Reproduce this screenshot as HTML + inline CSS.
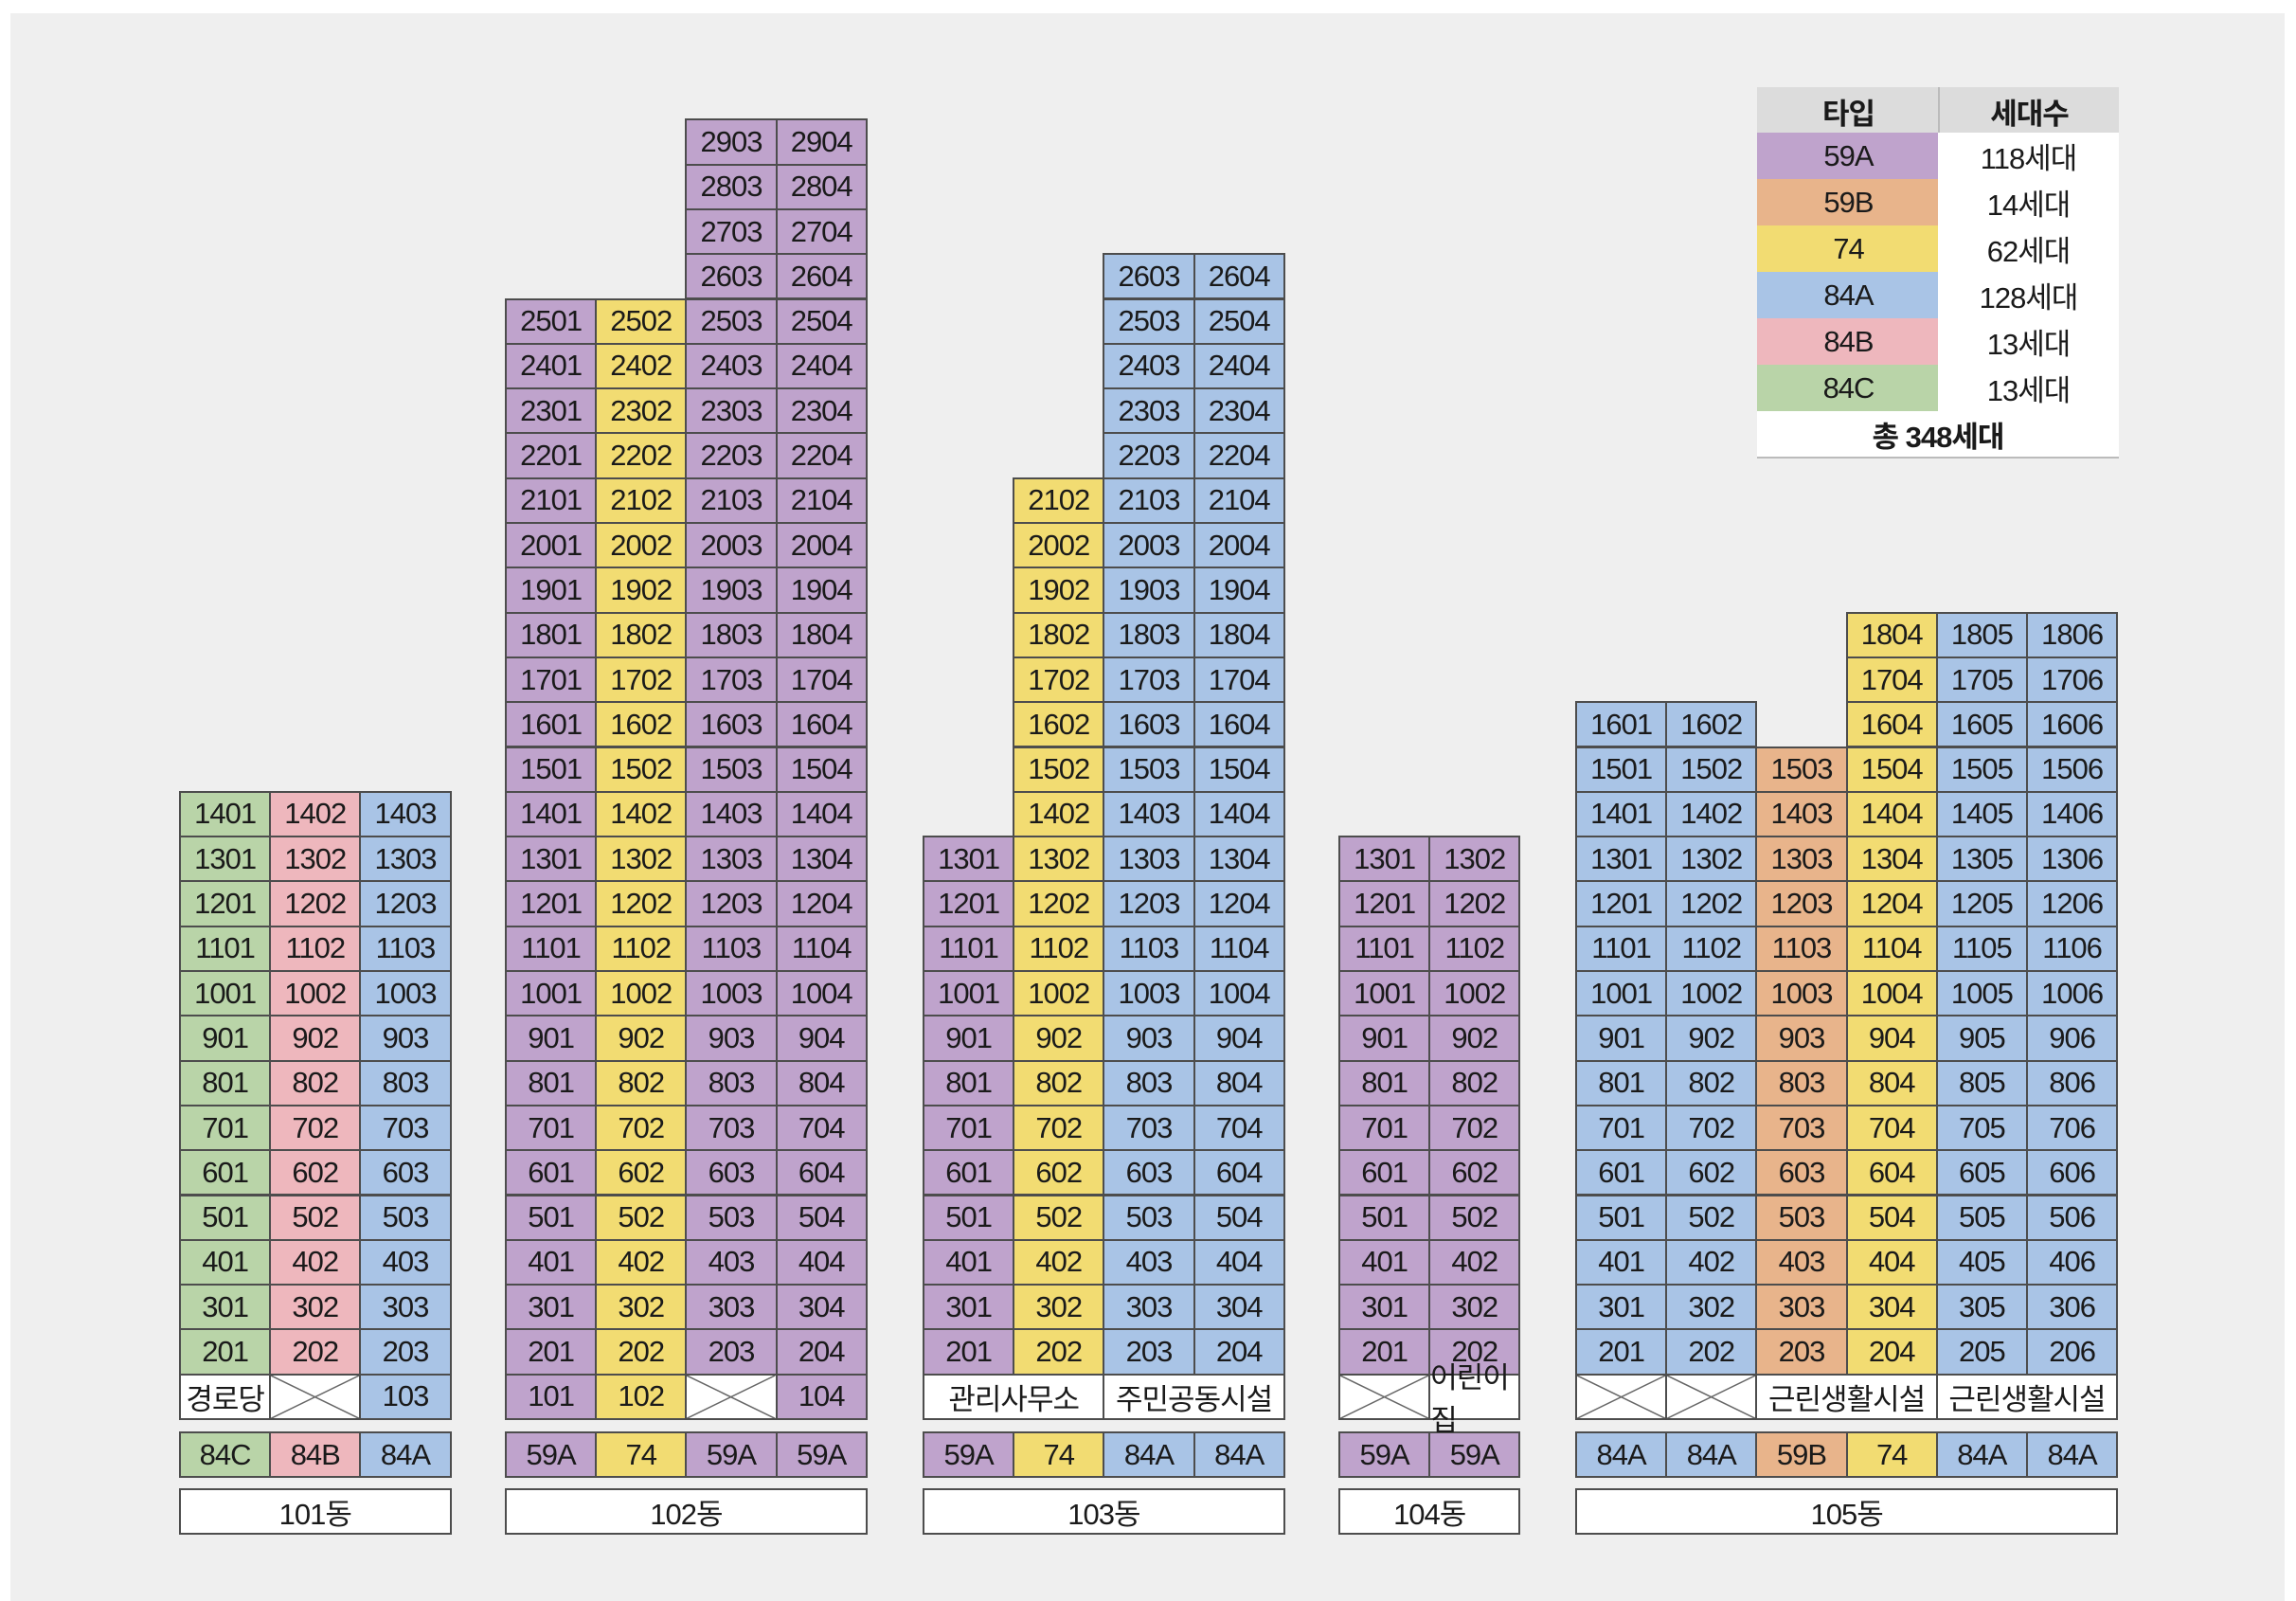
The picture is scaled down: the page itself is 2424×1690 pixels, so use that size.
<!DOCTYPE html>
<html><head><meta charset="utf-8"><style>
html,body{margin:0;padding:0;background:#fff;}
#page{position:relative;width:2424px;height:1690px;overflow:hidden;background:#fff;font-family:"Liberation Sans","Noto Sans CJK KR",sans-serif;}
#bg{position:absolute;left:11px;top:14px;width:2401px;height:1676px;background:#efefef;}
.c{position:absolute;box-sizing:border-box;border:2px solid #4d4d4d;display:flex;align-items:center;justify-content:center;font-size:31px;color:#1a1a1a;letter-spacing:-1px;}
</style></head><body>
<div id="page">
<div id="bg"></div>
</div>
<script>
const colors={"59A":"#bfa3cc","59B":"#e8b48b","74":"#f2dc72","84A":"#a9c4e6","84B":"#eeb7bd","84C":"#b9d4a8"};
const buildings=["101동","102동","103동","104동","105동"];
const buildingX=[189,533,974,1413,1663];
const colTypes=[["84C","84B","84A"],["59A","74","59A","59A"],["59A","74","84A","84A"],["59A","59A"],["84A","84A","59B","74","84A","84A"]];
const colTop=[[14,14,14],[25,25,29,29],[13,21,26,26],[13,13],[16,16,15,18,18,18]];
const grounds=[[["경로당",1],["X",1],["unit",1]],[["unit",1],["unit",1],["X",1],["unit",1]],[["관리사무소",2],["주민공동시설",2]],[["X",1],["어린이집",1]],[["X",1],["X",1],["근린생활시설",2],["근린생활시설",2]]];
const legendTypes=["59A","59B","74","84A","84B","84C"];
const legendCounts=["118세대","14세대","62세대","128세대","13세대","13세대"];
const total="총 348세대";
const W=95.2,H=47.3,BASE=1497;
const page=document.getElementById('page');
function cell(x,y,w,h,bg,txt){const d=document.createElement('div');d.className='c';d.style.left=x+'px';d.style.top=y+'px';d.style.width=(w+2)+'px';d.style.height=(h+2)+'px';d.style.background=bg;if(txt!=null)d.textContent=txt;page.appendChild(d);return d;}
function xsvg(x,y,w,h){const s=document.createElementNS('http://www.w3.org/2000/svg','svg');s.setAttribute('width',w);s.setAttribute('height',h);s.style.position='absolute';s.style.left=x+'px';s.style.top=y+'px';s.innerHTML='<line x1="0" y1="0" x2="'+w+'" y2="'+h+'" stroke="#666" stroke-width="1.5"/><line x1="0" y1="'+h+'" x2="'+w+'" y2="0" stroke="#666" stroke-width="1.5"/>';page.appendChild(s);}
buildings.forEach((b,bi)=>{
  const x0=buildingX[bi];
  colTypes[bi].forEach((t,ci)=>{
    const x=x0+ci*W;
    for(let f=2;f<=colTop[bi][ci];f++){
      const u=f*100+ci+1;
      const d=cell(x,BASE-f*H,W,H,colors[t],u);
      
      
    }
    const td=cell(x,1511,W,47,colors[t],t);
    
    
  });
  let ci=0;
  grounds[bi].forEach(g=>{
    const x=x0+ci*W,w=W*g[1];
    let d;
    if(g[0]==="unit"){const t=colTypes[bi][ci];d=cell(x,BASE-H,w,H,colors[t],100+ci+1);}
    else if(g[0]==="X"){d=cell(x,BASE-H,w,H,'#fff',null);xsvg(x+2,BASE-H+2,w-2,H-2);}
    else{d=cell(x,BASE-H,w,H,'#fff',g[0]);}
    
    
    ci+=g[1];
  });
  const n=colTypes[bi].length;
  const bl=cell(x0,1571,n*W,47,'#fff',b);
  
  
});
// legend
const LX=1855,LM=2046,LR=2235,LY=92,LH=49;
let h1=cell(LX,LY,LM-LX,48,'#dcdcdc','타입');h1.style.fontWeight='bold';h1.style.border='none';


let h2=cell(LM,LY,LR-LM,48,'#dcdcdc','세대수');h2.style.fontWeight='bold';h2.style.border='none';h2.style.borderLeft='2px solid #bbb';


legendTypes.forEach((t,i)=>{
  const y=LY+48+i*LH;
  const a=cell(LX,y,LM-LX,LH,colors[t],t);a.style.border='none';a.style.borderBottom='2px solid #fff';
  
  
  const c=cell(LM,y,LR-LM,LH,'#fff',legendCounts[i]);c.style.border='none';c.style.borderBottom='2px solid #ccc';
  
  
});
const tt=cell(LX,LY+48+6*LH,LR-LX,48,'#fff',total);tt.style.border='none';tt.style.borderBottom='2px solid #bbb';tt.style.fontWeight='bold';


</script>
</body></html>
